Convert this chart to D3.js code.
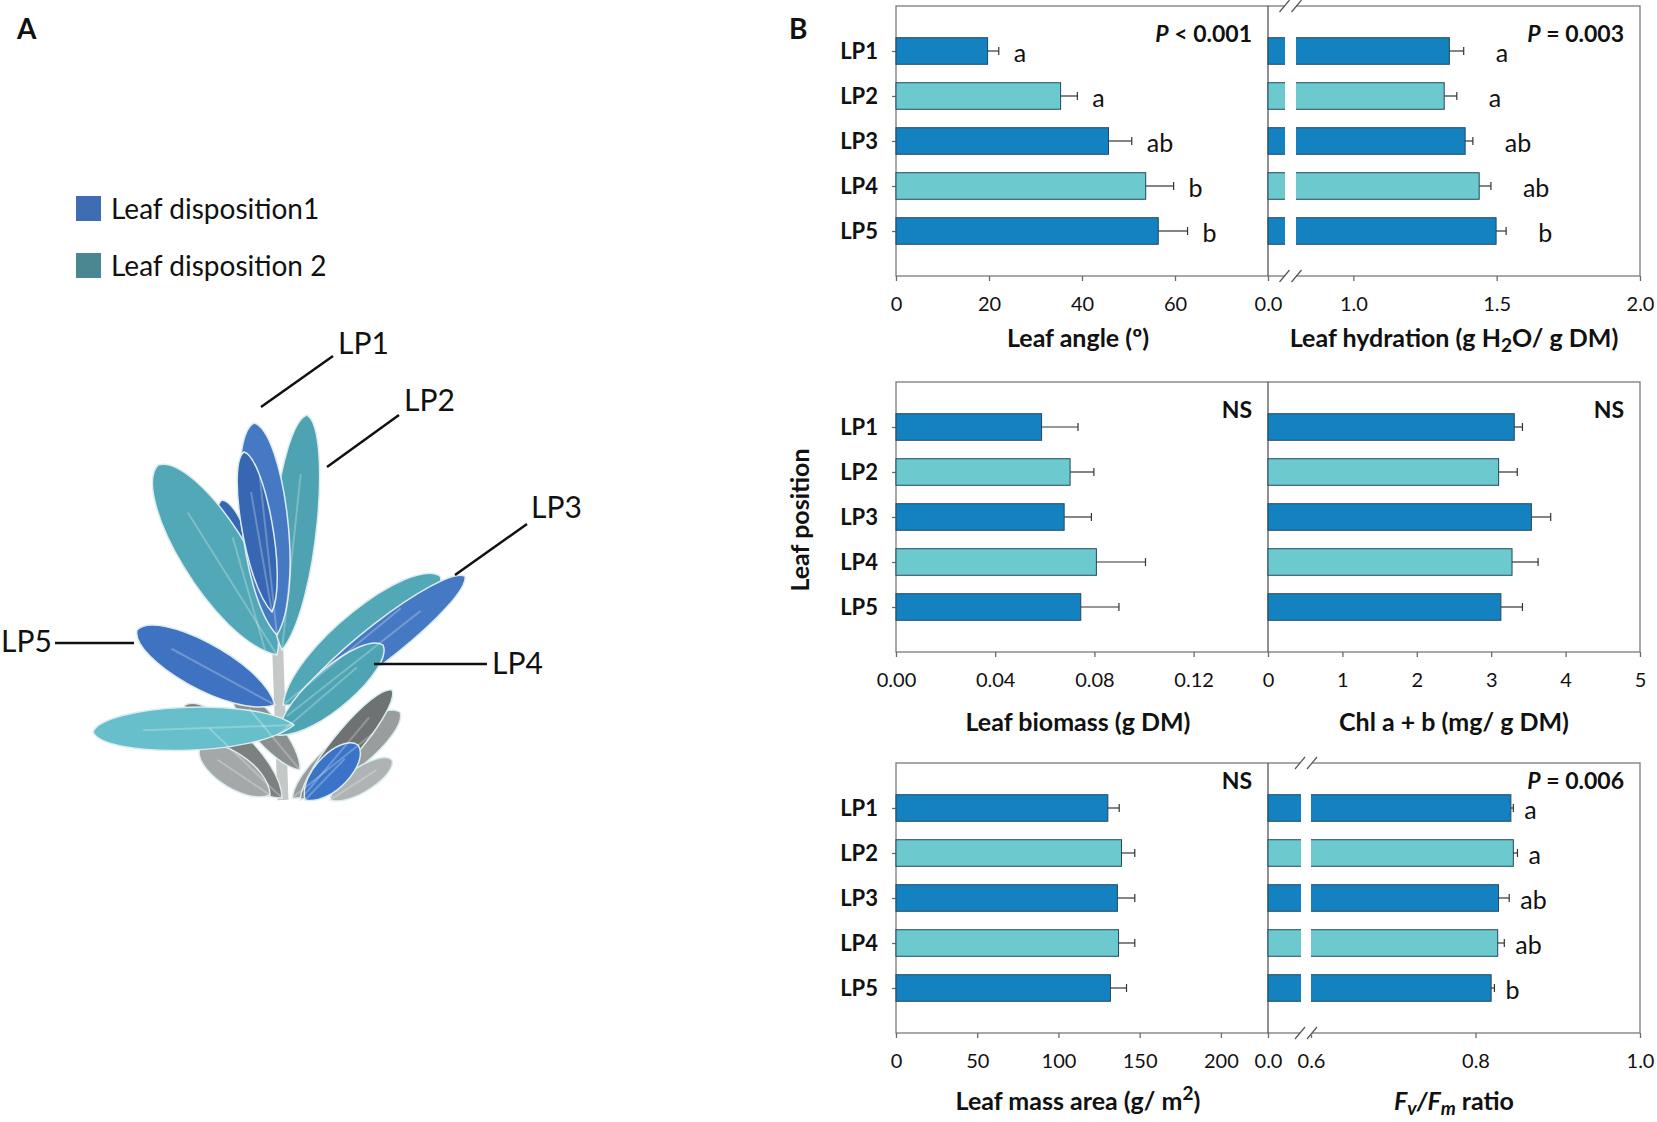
<!DOCTYPE html>
<html>
<head>
<meta charset="utf-8">
<script src="https://cdn.jsdelivr.net/npm/d3@7"></script>
<style>
  body { margin: 0; background: #fff; }
  text { font-family: Lato, 'Open Sans', sans-serif; fill: #111; }
</style>
</head>
<body>
<svg id="fig" width="1657" height="1122"></svg>
<script>
// ---- data ----
const positions = ['LP1', 'LP2', 'LP3', 'LP4', 'LP5'];
const disposition = [1, 2, 1, 2, 1];

const leafAngle = [19.7, 35.4, 45.7, 53.7, 56.4];
const leafAngleErr = [2.4, 3.6, 5.0, 6.0, 6.3];
const leafAngleLetters = ['a', 'a', 'ab', 'b', 'b'];

const hydration = [1.335, 1.317, 1.39, 1.439, 1.498];
const hydrationErr = [0.05, 0.044, 0.027, 0.041, 0.035];
const hydrationLetters = ['a', 'a', 'ab', 'ab', 'b'];

const biomass = [0.0587, 0.0702, 0.0678, 0.0808, 0.0745];
const biomassErr = [0.0147, 0.0096, 0.011, 0.0198, 0.0154];

const chl = [3.31, 3.1, 3.54, 3.28, 3.13];
const chlErr = [0.11, 0.25, 0.26, 0.35, 0.29];

const lma = [130.4, 138.8, 136.3, 137.0, 132.0];
const lmaErr = [7.0, 8.2, 10.7, 10.0, 9.9];

const fvfm = [0.843, 0.846, 0.828, 0.827, 0.819];
const fvfmErr = [0.003, 0.005, 0.013, 0.008, 0.004];
const fvfmLetters = ['a', 'a', 'ab', 'ab', 'b'];

const angleTicks = [0, 20, 40, 60];
const hydrationTicks = [0, 1.0, 1.5, 2.0];
const biomassTicks = [0, 0.04, 0.08, 0.12];
const chlTicks = [0, 1, 2, 3, 4, 5];
const lmaTicks = [0, 50, 100, 150, 200];
const fvfmTicks = [0, 0.6, 0.8, 1.0];

const legendItems = ['Leaf disposition1', 'Leaf disposition 2'];

// ---- layout ----
const svg = d3.select('#fig');
const barColor = { 1: '#1482c1', 2: '#6ccacf' };
const xLeft = 896, xMid = 1268, xRight = 1640;
const rows = [
  { top: 6, titleY: 347, statY: 36 },
  { top: 382, titleY: 731, statY: 36 },
  { top: 763, titleY: 1110, statY: 26 }
];
const plotH = 270;

const panels = [
  { row: 0, side: 'L', values: leafAngle, err: leafAngleErr, letters: leafAngleLetters, letterGap: 15,
    domain: [0, 80], ticks: angleTicks, fmt: d3.format('d'), stat: ['P', ' < 0.001'],
    title: [{ t: 'Leaf angle (º)' }] },
  { row: 0, side: 'R', values: hydration, err: hydrationErr, letters: hydrationLetters, letterGap: 32,
    domain: [0, 0.1, 0.8, 2.0], gap: [17, 28], ticks: hydrationTicks, fmt: d3.format('.1f'), stat: ['P', ' = 0.003'],
    title: [{ t: 'Leaf hydration (g H' }, { t: '2', sub: true }, { t: 'O/ g DM)' }] },
  { row: 1, side: 'L', values: biomass, err: biomassErr,
    domain: [0, 0.15], ticks: biomassTicks, fmt: d3.format('.2f'), stat: ['', 'NS'],
    title: [{ t: 'Leaf biomass (g DM)' }] },
  { row: 1, side: 'R', values: chl, err: chlErr,
    domain: [0, 5], ticks: chlTicks, fmt: d3.format('d'), stat: ['', 'NS'],
    title: [{ t: 'Chl a + b (mg/ g DM)' }] },
  { row: 2, side: 'L', values: lma, err: lmaErr,
    domain: [0, 229], ticks: lmaTicks, fmt: d3.format('d'), stat: ['', 'NS'],
    title: [{ t: 'Leaf mass area (g/ m' }, { t: '2', sup: true }, { t: ')' }] },
  { row: 2, side: 'R', values: fvfm, err: fvfmErr, letters: fvfmLetters, letterGap: 11,
    domain: [0, 0.2, 0.6, 1.0], gap: [33, 43], ticks: fvfmTicks, fmt: d3.format('.1f'), stat: ['P', ' = 0.006'],
    title: [{ t: 'F', it: true }, { t: 'v', it: true, sub: true }, { t: '/F', it: true }, { t: 'm', it: true, sub: true }, { t: ' ratio' }] }
];

// frames per row
rows.forEach((r) => {
  svg.append('rect')
    .attr('x', xLeft).attr('y', r.top)
    .attr('width', xRight - xLeft).attr('height', plotH)
    .attr('fill', 'none').attr('stroke', '#7a7a7a').attr('stroke-width', 1.3);
  svg.append('line')
    .attr('x1', xMid).attr('x2', xMid).attr('y1', r.top).attr('y2', r.top + plotH)
    .attr('stroke', '#555').attr('stroke-width', 1.3);
});

panels.forEach((p) => {
  const r = rows[p.row];
  const x0 = p.side === 'L' ? xLeft : xMid;
  const x1 = p.side === 'L' ? xMid : xRight;
  const range = p.gap ? [x0, x0 + p.gap[0], x0 + p.gap[1], x1] : [x0, x1];
  const x = d3.scaleLinear().domain(p.domain).range(range);
  const y = d3.scalePoint().domain(positions).range([r.top, r.top + plotH]).padding(1);
  const bh = y.step() * 0.59;
  const g = svg.append('g');

  const rowsData = positions.map((k, i) => ({
    k, v: p.values[i], e: p.err[i], d: disposition[i], l: p.letters ? p.letters[i] : null
  }));

  // x axis
  const ax = g.append('g')
    .attr('transform', `translate(0,${r.top + plotH})`)
    .call(d3.axisBottom(x).tickValues(p.ticks).tickFormat(p.fmt).tickSize(5).tickPadding(16));
  ax.select('.domain').remove();
  ax.selectAll('line').attr('stroke', '#6a6a6a').attr('stroke-width', 1.3);
  ax.selectAll('text').attr('font-size', 20).attr('fill', '#222');

  // y axis labels on left panels
  if (p.side === 'L') {
    const ay = g.append('g')
      .attr('transform', `translate(${x0},0)`)
      .call(d3.axisLeft(y).tickSize(4).tickPadding(14));
    ay.select('.domain').remove();
    ay.selectAll('line').attr('stroke', '#6a6a6a').attr('stroke-width', 1.3);
    ay.selectAll('text').attr('font-size', 22).attr('font-weight', 700).attr('fill', '#111');
  }

  // bars
  g.selectAll('rect.bar').data(rowsData).enter().append('rect')
    .attr('class', 'bar')
    .attr('x', x(0))
    .attr('y', (d) => y(d.k) - bh / 2)
    .attr('width', (d) => x(d.v) - x(0))
    .attr('height', bh)
    .attr('fill', (d) => barColor[d.d])
    .attr('stroke', '#23475f').attr('stroke-width', 1);

  // broken axis gap
  if (p.gap) {
    g.append('rect')
      .attr('x', x0 + p.gap[0]).attr('y', r.top + 1)
      .attr('width', p.gap[1] - p.gap[0]).attr('height', plotH - 2)
      .attr('fill', '#fff');
    const cx = x0 + (p.gap[0] + p.gap[1]) / 2;
    [r.top, r.top + plotH].forEach((yy) => {
      g.append('rect').attr('x', cx - 6).attr('y', yy - 2).attr('width', 12).attr('height', 4).attr('fill', '#fff');
      [-6, 6].forEach((o) => {
        g.append('line')
          .attr('x1', cx + o - 5).attr('y1', yy + 6)
          .attr('x2', cx + o + 5).attr('y2', yy - 6)
          .attr('stroke', '#555').attr('stroke-width', 1.2);
      });
    });
  }

  // error bars
  const eb = g.selectAll('g.err').data(rowsData).enter().append('g').attr('class', 'err');
  eb.append('line')
    .attr('x1', (d) => x(d.v)).attr('x2', (d) => x(d.v + d.e))
    .attr('y1', (d) => y(d.k)).attr('y2', (d) => y(d.k))
    .attr('stroke', '#333').attr('stroke-width', 1.2);
  eb.append('line')
    .attr('x1', (d) => x(d.v + d.e)).attr('x2', (d) => x(d.v + d.e))
    .attr('y1', (d) => y(d.k) - 4).attr('y2', (d) => y(d.k) + 4)
    .attr('stroke', '#333').attr('stroke-width', 1.2);

  // significance letters
  if (p.letters) {
    g.selectAll('text.letter').data(rowsData).enter().append('text')
      .attr('class', 'letter')
      .attr('x', (d) => x(d.v + d.e) + p.letterGap)
      .attr('y', (d) => y(d.k) + 11)
      .attr('font-size', 25)
      .text((d) => d.l);
  }

  // statistic
  const st = g.append('text')
    .attr('x', x1 - 16).attr('y', r.top + r.statY)
    .attr('text-anchor', 'end').attr('font-size', 23).attr('font-weight', 700);
  if (p.stat[0]) st.append('tspan').attr('font-style', 'italic').text(p.stat[0]);
  st.append('tspan').text(p.stat[1]);

  // axis title
  const tt = g.append('text')
    .attr('x', (x0 + x1) / 2 + (p.side === 'L' ? -4 : 0)).attr('y', r.titleY)
    .attr('text-anchor', 'middle').attr('font-size', 25).attr('font-weight', 700);
  p.title.forEach((part, i) => {
    const s = tt.append('tspan').text(part.t);
    const prev = p.title[i - 1];
    if (part.it) s.attr('font-style', 'italic');
    if (part.sub) s.attr('dy', 5).attr('font-size', 19);
    else if (part.sup) s.attr('dy', -10).attr('font-size', 19);
    else if (prev && prev.sub) s.attr('dy', -5);
    else if (prev && prev.sup) s.attr('dy', 10);
  });
});

// panel letters and y label
svg.append('text').attr('x', 17).attr('y', 39)
  .attr('font-family', 'Liberation Sans, Arial, sans-serif').attr('font-weight', 700).attr('font-size', 28).text('A');
svg.append('text').attr('x', 789).attr('y', 39)
  .attr('font-family', 'Liberation Sans, Arial, sans-serif').attr('font-weight', 700).attr('font-size', 28).text('B');
svg.append('text')
  .attr('transform', 'translate(809,520) rotate(-90)')
  .attr('text-anchor', 'middle').attr('font-size', 25).attr('font-weight', 700)
  .text('Leaf position');

// ---- panel A: legend and plant sketch ----
const legendColors = ['#3f6db3', '#4a8790'];
const lg = svg.append('g');
legendItems.forEach((t, i) => {
  lg.append('rect').attr('x', 76).attr('y', 196 + i * 57).attr('width', 25).attr('height', 25).attr('fill', legendColors[i]);
  lg.append('text').attr('x', 111).attr('y', 219 + i * 57).attr('font-size', 28).text(t);
});

const blue = '#4679c4', blueDark = '#3767b3', teal = '#52a8b6', tealLight = '#67bfcb', grey = '#8c8f8f';
const plantLeaves = [
  { b: [282, 798], t: [185, 705], w: 26, c: '#7d8080' },
  { b: [292, 798], t: [400, 712], w: 24, c: '#9a9d9d' },
  { b: [300, 800], t: [392, 690], w: 18, c: '#6f7272' },
  { b: [270, 795], t: [200, 748], w: 22, c: '#a5a8a8' },
  { b: [300, 770], t: [232, 688], w: 18, c: grey },
  { b: [330, 800], t: [392, 760], w: 16, c: '#b0b3b3' },
  { b: [265, 650], t: [222, 500], w: 22, c: blueDark },
  { b: [277, 655], t: [158, 465], w: 42, c: teal },
  { b: [282, 650], t: [307, 415], w: 28, c: '#4fa2b2' },
  { b: [277, 635], t: [254, 423], w: 30, c: blue },
  { b: [272, 612], t: [244, 452], w: 20, c: blueDark },
  { b: [283, 705], t: [440, 576], w: 36, c: teal },
  { b: [287, 716], t: [465, 576], w: 24, c: blue },
  { b: [278, 735], t: [383, 645], w: 26, c: '#4ea4b3' },
  { b: [275, 705], t: [137, 630], w: 30, c: '#3f72c0' },
  { b: [294, 725], t: [93, 732], w: 28, c: tealLight },
  { b: [305, 800], t: [358, 745], w: 22, c: '#3a73c8' }
];
function leafPath(b, t, w) {
  const dx = t[0] - b[0], dy = t[1] - b[1];
  const L = Math.hypot(dx, dy), nx = -dy / L, ny = dx / L;
  const p = (f, s) => [b[0] + dx * f + nx * w * s, b[1] + dy * f + ny * w * s];
  return `M${b}C${p(0.2, 1.1)} ${p(0.95, 0.95)} ${t}C${p(0.95, -0.95)} ${p(0.2, -1.1)} ${b}Z`;
}
const plant = svg.append('g');
plant.append('path')
  .attr('d', 'M283,800 L276,600')
  .attr('stroke', '#c4c8c6').attr('stroke-width', 11).attr('fill', 'none');
plant.selectAll('path.leaf').data(plantLeaves).enter().append('path')
  .attr('class', 'leaf')
  .attr('d', (d) => leafPath(d.b, d.t, d.w))
  .attr('fill', (d) => d.c)
  .attr('stroke', '#dcecee').attr('stroke-width', 1.5);
plant.selectAll('path.rib').data(plantLeaves).enter().append('path')
  .attr('class', 'rib')
  .attr('d', (d) => `M${d.b}L${[d.b[0] + (d.t[0] - d.b[0]) * 0.75, d.b[1] + (d.t[1] - d.b[1]) * 0.75]}`)
  .attr('stroke', '#ffffff').attr('stroke-opacity', 0.25).attr('stroke-width', 2).attr('fill', 'none');

const plantLabels = [
  { t: 'LP1', x: 338, y: 354, l: [[333, 356], [261, 407]] },
  { t: 'LP2', x: 404, y: 411, l: [[399, 415], [327, 467]] },
  { t: 'LP3', x: 531, y: 518, l: [[527, 524], [455, 575]] },
  { t: 'LP4', x: 492, y: 674, l: [[487, 664], [374, 664]] },
  { t: 'LP5', x: 1, y: 652, l: [[55, 643], [134, 643]] }
];
plantLabels.forEach((d) => {
  svg.append('line')
    .attr('x1', d.l[0][0]).attr('y1', d.l[0][1]).attr('x2', d.l[1][0]).attr('y2', d.l[1][1])
    .attr('stroke', '#111').attr('stroke-width', 2.5);
  svg.append('text').attr('x', d.x).attr('y', d.y).attr('font-size', 30).text(d.t);
});
</script>
</body>
</html>
